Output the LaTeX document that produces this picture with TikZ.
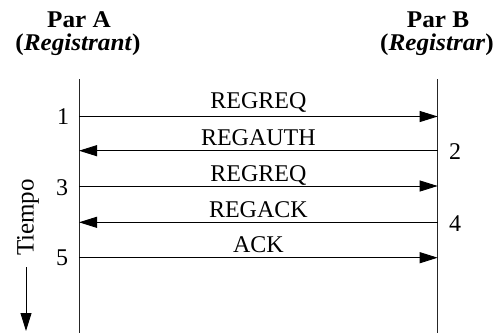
\documentclass[tikz,border=0pt]{standalone}
\usepackage{fontspec}
\setmainfont{Liberation Serif}
\usetikzlibrary{arrows.meta}
\begin{document}
\begin{tikzpicture}[x=1pt,y=-1pt,
  lifeline/.style={draw=black!85,line width=0.9pt},
  msg/.style={draw=black,line width=0.9pt,-{Triangle[length=18pt,width=11pt]}},
  msglabel/.style={anchor=base,inner sep=0pt,font=\fontsize{24}{28}\selectfont},
  stepnum/.style={inner sep=0pt,font=\fontsize{24}{28}\selectfont},
  head/.style={anchor=base,inner sep=0pt,xscale=1.05,font=\fontsize{24}{28}\selectfont\bfseries}]
  \useasboundingbox (0,0) rectangle (493,333);

  % participants
  \node[head] (parA) at (79,27.5) {Par A};
  \node[head] (roleA) at (78,50.5) {(\textit{Registrant})};
  \node[head] (parB) at (438,27.5) {Par B};
  \node[head] (roleB) at (437,50.5) {(\textit{Registrar})};

  % lifelines
  \coordinate (aTop) at (79,79);
  \coordinate (aBot) at (79,333);
  \coordinate (bTop) at (437.7,79);
  \coordinate (bBot) at (437.7,333);
  \draw[lifeline] (aTop) -- (aBot);
  \draw[lifeline] (bTop) -- (bBot);

  % message anchor points on the lifelines
  \foreach \i/\y in {1/116.5,2/150.7,3/186,4/222.3,5/257.7}{
    \coordinate (a\i) at (79,\y);
    \coordinate (b\i) at (437.7,\y);
  }

  % messages
  \draw[msg] (a1) -- (b1) node[msglabel,pos=0.5,yshift=8pt] (m1) {REGREQ};
  \draw[msg] (b2) -- (a2) node[msglabel,pos=0.5,yshift=5pt] (m2) {REGAUTH};
  \draw[msg] (a3) -- (b3) node[msglabel,pos=0.5,yshift=5pt] (m3) {REGREQ};
  \draw[msg] (b4) -- (a4) node[msglabel,pos=0.5,yshift=5pt] (m4) {REGACK};
  \draw[msg] (a5) -- (b5) node[msglabel,pos=0.5,yshift=5pt] (m5) {ACK};

  % step numbers
  \node[stepnum] (n1) at (63,116.5) {1};
  \node[stepnum] (n2) at (455,152) {2};
  \node[stepnum] (n3) at (62,188) {3};
  \node[stepnum] (n4) at (455,224) {4};
  \node[stepnum] (n5) at (62,258) {5};

  % time axis
  \node[rotate=90,anchor=base,inner sep=0pt,font=\fontsize{25}{29}\selectfont] (tiempo) at (33.5,217.5) {Tiempo};
  \coordinate (tStart) at (26,267);
  \coordinate (tEnd) at (26,331);
  \draw[msg] (tStart) -- (tEnd);
\end{tikzpicture}
\end{document}
